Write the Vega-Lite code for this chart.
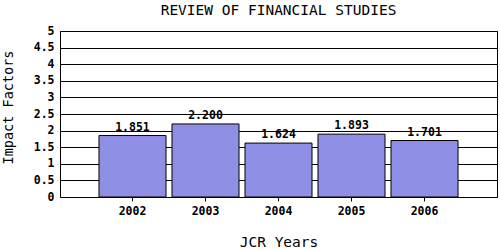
{
  "$schema": "https://vega.github.io/schema/vega-lite/v6.json",
  "width": 437,
  "height": 166,
  "autosize": "none",
  "padding": {"left": 60, "top": 31, "right": 3, "bottom": 53},
  "background": "white",
  "title": {
    "text": "REVIEW OF FINANCIAL STUDIES",
    "font": "DejaVu Sans Mono",
    "fontSize": 14.5,
    "fontWeight": "normal",
    "color": "black",
    "anchor": "middle",
    "offset": 7
  },
  "config": {
    "view": {"stroke": "black", "strokeWidth": 1},
    "axis": {
      "labelFont": "DejaVu Sans Mono",
      "labelFontWeight": "bold",
      "labelFontSize": 11.5,
      "labelColor": "black",
      "titleFont": "DejaVu Sans Mono",
      "titleFontWeight": "normal",
      "titleFontSize": 14.5,
      "titleColor": "black"
    }
  },
  "data": {
    "values": [
      {"year": "2002", "impact": 1.851, "label": "1.851"},
      {"year": "2003", "impact": 2.2, "label": "2.200"},
      {"year": "2004", "impact": 1.624, "label": "1.624"},
      {"year": "2005", "impact": 1.893, "label": "1.893"},
      {"year": "2006", "impact": 1.701, "label": "1.701"}
    ]
  },
  "encoding": {
    "x": {
      "field": "year",
      "type": "nominal",
      "scale": {"paddingInner": 0.082, "paddingOuter": 0.534},
      "axis": {
        "title": "JCR Years",
        "labelAngle": 0,
        "domain": false,
        "ticks": true,
        "tickSize": 4,
        "tickColor": "black",
        "labelPadding": 4,
        "titlePadding": 19
      }
    },
    "y": {
      "field": "impact",
      "type": "quantitative",
      "scale": {"domain": [0, 5], "nice": false},
      "axis": {
        "title": "Impact Factors",
        "titleFontSize": 13.5,
        "titleX": -52,
        "titleY": 76,
        "titleBaseline": "middle",
        "titleAlign": "center",
        "titleAngle": -90,
        "values": [0, 0.5, 1, 1.5, 2, 2.5, 3, 3.5, 4, 4.5, 5],
        "format": "~g",
        "domain": false,
        "ticks": false,
        "labelPadding": 6,
        "grid": true,
        "gridColor": "black",
        "gridOpacity": 1,
        "gridWidth": 1
      }
    }
  },
  "layer": [
    {
      "mark": {"type": "bar", "color": "#8F8FE6", "stroke": "black", "strokeWidth": 1}
    },
    {
      "mark": {
        "type": "text",
        "baseline": "bottom",
        "dy": -3,
        "font": "DejaVu Sans Mono",
        "fontWeight": "bold",
        "fontSize": 11.5,
        "color": "black"
      },
      "encoding": {"text": {"field": "label"}}
    }
  ]
}
